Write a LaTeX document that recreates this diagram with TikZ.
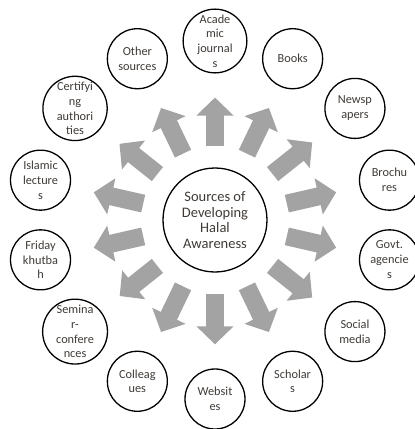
\documentclass[tikz,border=0pt]{standalone}
\usepackage{fontspec}
\setmainfont{Carlito}
\usetikzlibrary{arrows.meta}
\definecolor{arrowgray}{HTML}{A3A3A3}
\definecolor{textgray}{HTML}{3F3A36}
\newcommand{\ringdist}{179pt}
\newcommand{\blockarrow}{-{Triangle[width=36pt,length=18pt]}}

\tikzset{
  source/.style={draw, circle, line width=1.3pt, minimum size=60pt, inner sep=0pt,
    align=center, text=textgray, font=\fontsize{12.3}{14.8}\selectfont},
  hub/.style={draw, circle, line width=1.3pt, minimum size=104pt, inner sep=0pt,
    align=center, text=textgray, font=\fontsize{14.5}{15.7}\selectfont},
  spoke/.style={draw=arrowgray, line width=18pt, shorten <=21pt, shorten >=24pt}
}

\begin{document}
\begin{tikzpicture}
        \useasboundingbox (-215pt,-209pt) rectangle (200pt,220pt);
        \node[hub] (awareness) at (0,0) {Sources of\\Developing\\Halal\\Awareness};
        % sources on the ring, clockwise from the top
        \node[source] (journals) at (90:\ringdist) {Acade\\mic\\journal\\s};
        \node[source] (books) at (64.29:\ringdist) {Books};
        \node[source] (newspapers) at (38.57:\ringdist) {Newsp\\apers};
        \node[source] (brochures) at (12.86:\ringdist) {Brochu\\res};
        \node[source] (agencies) at (-12.86:\ringdist) {Govt.\\agencie\\s};
        \node[source] (media) at (-38.57:\ringdist) {Social\\media};
        \node[source] (scholars) at (-64.29:\ringdist) {Scholar\\s};
        \node[source] (websites) at (-90:\ringdist) {Websit\\es};
        \node[source] (colleagues) at (-115.71:\ringdist) {Colleag\\ues};
        \node[source] (seminars) at (-141.43:\ringdist) {Semina\\r-\\confere\\nces};
        \node[source] (khutbah) at (-167.14:\ringdist) {Friday\\khutba\\h};
        \node[source] (lectures) at (167.14:\ringdist) {Islamic\\lecture\\s};
        \node[source] (authorities) at (141.43:\ringdist) {Certifyi\\ng\\authori\\ties};
        \node[source] (others) at (115.71:\ringdist) {Other\\sources};
        % block arrows
        \draw[\blockarrow, spoke] (awareness) -- (journals);
        \draw[\blockarrow, spoke] (awareness) -- (books);
        \draw[\blockarrow, spoke] (awareness) -- (newspapers);
        \draw[\blockarrow, spoke] (awareness) -- (brochures);
        \draw[\blockarrow, spoke] (awareness) -- (agencies);
        \draw[\blockarrow, spoke] (awareness) -- (media);
        \draw[\blockarrow, spoke] (awareness) -- (scholars);
        \draw[\blockarrow, spoke] (awareness) -- (websites);
        \draw[\blockarrow, spoke] (awareness) -- (colleagues);
        \draw[\blockarrow, spoke] (awareness) -- (seminars);
        \draw[\blockarrow, spoke] (awareness) -- (khutbah);
        \draw[\blockarrow, spoke] (awareness) -- (lectures);
        \draw[\blockarrow, spoke] (awareness) -- (authorities);
        \draw[\blockarrow, spoke] (awareness) -- (others);
    \end{tikzpicture}
\end{document}
